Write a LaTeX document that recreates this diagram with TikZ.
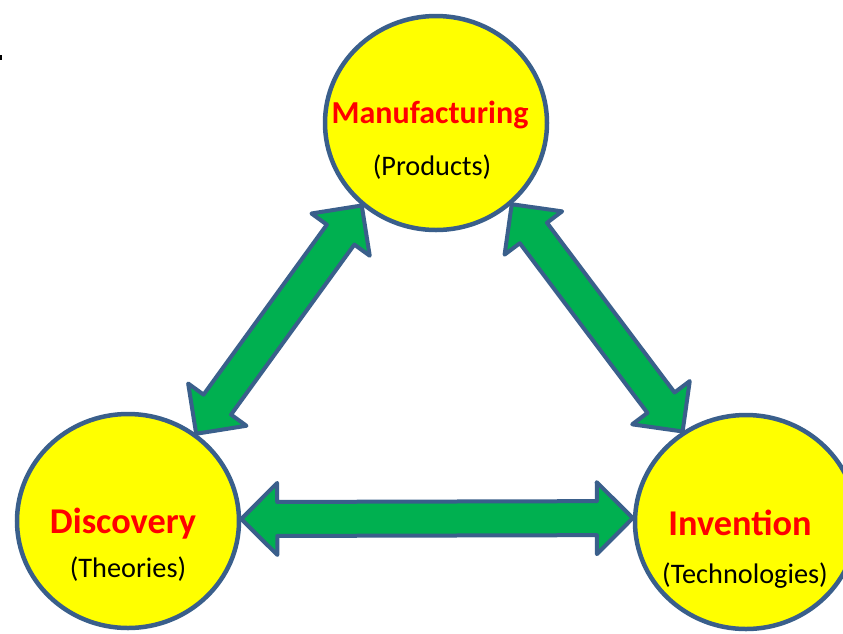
\documentclass[tikz,border=0pt]{standalone}
\usepackage{fontspec}
\setmainfont{Carlito}
\usetikzlibrary{positioning, shapes.geometric, calc}
\definecolor{edgeblue}{HTML}{3A5F8B}
\definecolor{arrgreen}{HTML}{00B050}
\definecolor{bubbleyellow}{HTML}{FFFF00}
\definecolor{titlered}{HTML}{FF0000}

\begin{document}
\begin{tikzpicture}[x=1pt, y=-1pt,
    bubble/.style={
        ellipse,
        draw=edgeblue,
        fill=bubbleyellow,
        line width=4.5pt,
        minimum width=222pt,
        minimum height=214pt,
        inner sep=0pt,
    },
    title/.style={anchor=base, text=titlered, font=\bfseries\fontsize{36.3}{42}\selectfont},
    sub/.style={anchor=base, font=\fontsize{28.3}{34}\selectfont},
    arr/.style={draw=edgeblue, fill=arrgreen, line width=4pt, line join=round,
        to path={
            ($(\tikztostart)!36pt!(\tikztotarget)$) coordinate (hs)
            ($(\tikztotarget)!36pt!(\tikztostart)$) coordinate (ht)
            (\tikztostart) -- ($(hs)!36pt!90:(\tikztotarget)$) -- ($(hs)!17pt!90:(\tikztotarget)$)
            -- ($(ht)!17pt!-90:(\tikztostart)$) -- ($(ht)!36pt!-90:(\tikztostart)$) -- (\tikztotarget)
            -- ($(ht)!36pt!90:(\tikztostart)$) -- ($(ht)!17pt!90:(\tikztostart)$)
            -- ($(hs)!17pt!-90:(\tikztotarget)$) -- ($(hs)!36pt!-90:(\tikztotarget)$) -- cycle}}
]
\useasboundingbox (0,0) rectangle (843,633);

% Circulos
\node[bubble] (manuf) at (436,123) {};
\node[bubble] (disc) at (128,521) {};
\node[bubble] (inv) at (746,522) {};

% Textos
\node[title, font=\bfseries\fontsize{32}{38}\selectfont] (manuf-t) at (430,123) {Manufacturing};
\node[sub] (manuf-s) at (432,175) {(Products)};
\node[title] (disc-t) at (123,533) {Discovery};
\node[sub] (disc-s) at (128,577) {(Theories)};
\node[title] (inv-t) at (740,535) {Invention};
\node[sub] (inv-s) at (745,583) {(Technologies)};

% Flechas dobles
\draw[arr] (manuf.228) to (disc.52);
\draw[arr] (manuf.313) to (inv.125);
\draw[arr] (disc.1) to (inv.178);

% marca pequena
\draw[line width=1.5pt] (0.75,55) -- (0.75,60);

\end{tikzpicture}
\end{document}
